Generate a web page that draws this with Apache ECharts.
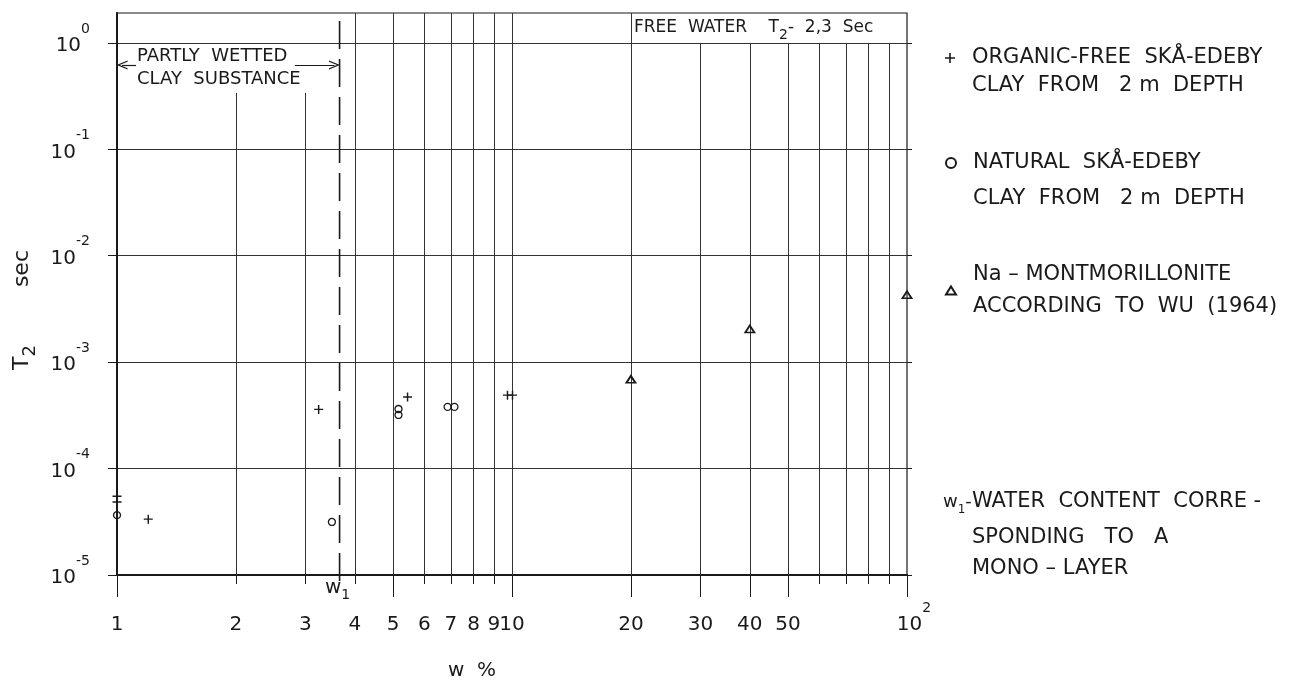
<!DOCTYPE html>
<html><head><meta charset="utf-8">
<script src="https://cdn.jsdelivr.net/npm/echarts@6/dist/echarts.min.js"></script>
<style>html,body{margin:0;padding:0;background:#fff}#c{width:1306px;height:683px}</style>
</head><body><div id="c"></div>
<script>
// ---- data ----
const organicFree = [[1,5.5e-5],[1,4.85e-5],[1.2,3.35e-5],[3.24,3.6e-4],[5.44,4.7e-4],[9.74,4.9e-4],[10.03,4.9e-4]];
const naturalClay = [[1,3.65e-5],[3.5,3.15e-5],[5.16,3.63e-4],[5.16,3.19e-4],[6.87,3.8e-4],[7.15,3.8e-4]];
const naMontmorillonite = [[20,6.9e-4],[40,2.05e-3],[100,4.3e-3]];
const xLabelValues = [1,2,3,4,5,6,7,8,9,10,20,30,40,50,100];
const xMajorTicks = [1,5,10,20,30,40,50,100];
const xMinorTicks = [2,3,4,6,7,8,9,60,70,80,90];
const yTickValues = [1e-5,1e-4,1e-3,1e-2,1e-1,1];
const xGridFull = [4,5,6,7,8,9,10,20];
const xGridBelowLabel = [2,3];
const xGridBelowFreeWater = [30,40,50,60,70,80,90];
const W1 = 3.66;
const X_MIN = 1, X_MAX = 100, Y_MIN = 1e-5, Y_MAX = 1.91;
const LABEL_BOX_BOTTOM = 0.339;   // T2 level where the "partly wetted" box ends
const ARROW_LEVEL = 0.621;
const legendText = {
  organic: ['ORGANIC-FREE  SKÅ-EDEBY', 'CLAY  FROM   2 m  DEPTH'],
  natural: ['NATURAL  SKÅ-EDEBY', 'CLAY  FROM   2 m  DEPTH'],
  namont:  ['Na – MONTMORILLONITE', 'ACCORDING  TO  WU  (1964)']
};

// ---- styling ----
const F = "'DejaVu Sans',sans-serif";
const INK = '#1a1a1a';
const GRID = '#333';
const PLUS = 'path://M4.2,0H5.8V4.2H10V5.8H5.8V10H4.2V5.8H0V4.2H4.2Z';
const CHEV = 'path://M0,10L5,0L10,10L8.6,10L5,2.8L1.4,10Z';

const chart = echarts.init(document.getElementById('c'));

const gridLines = [];
function vline(x, y1, y2) { gridLines.push([{coord:[x, y1]}, {coord:[x, y2]}]); }
xGridFull.forEach(x => vline(x, Y_MIN, Y_MAX));
xGridBelowLabel.forEach(x => vline(x, Y_MIN, LABEL_BOX_BOTTOM));
xGridBelowFreeWater.forEach(x => vline(x, Y_MIN, 1));

const supRich = {
  b: {fontSize: 20, lineHeight: 34, verticalAlign: 'bottom', fontFamily: F, color: INK},
  b2: {fontSize: 20, lineHeight: 34, verticalAlign: 'bottom', fontFamily: F, color: INK, padding: [0, 0, 0, 14]},
  e: {fontSize: 14, lineHeight: 22, verticalAlign: 'top', fontFamily: F, color: INK}
};

function legendCfg(name, top, L, blank) {
  const lines = legendText[name];
  return {
    data: [name], left: 945, top: top, padding: 0, orient: 'vertical',
    itemWidth: 10, itemHeight: name === 'namont' ? 8 : 10, selectedMode: false,
    formatter: () => (blank ? '{g| }\n' : '') + '{a|' + lines[0] + '}\n{a|' + lines[1] + '}',
    textStyle: {
      rich: {
        a: {fontSize: 21, lineHeight: L, padding: [0,0,0,12], fontFamily: F, color: INK},
        g: {fontSize: 10, lineHeight: L}
      }
    }
  };
}

const option = {
  animation: false,
  backgroundColor: '#fff',
  textStyle: {fontFamily: F, color: INK},
  grid: {left: 117, right: 399, top: 13, bottom: 108, show: true, borderColor: INK, borderWidth: 1.2, outerBoundsMode: 'none', containLabel: false},
  xAxis: [
    {
      type: 'log', logBase: 10, min: X_MIN, max: X_MAX, position: 'bottom',
      name: 'w  %', nameLocation: 'middle', nameGap: 86,
      nameTextStyle: {fontSize: 20, fontFamily: F, color: INK, padding: [0, 80, 0, 0]},
      axisLine: {show: true, lineStyle: {color: INK, width: 2}},
      axisTick: {show: true, customValues: xMajorTicks, length: 22, lineStyle: {color: INK, width: 1}},
      axisLabel: {
        show: true, customValues: xLabelValues, margin: 26, hideOverlap: false,
        formatter: v => (Math.abs(v - 100) < 1e-6 ? '{b2|10}{e|2}' : '{b|' + Math.round(v) + '}'),
        rich: supRich
      },
      splitLine: {show: false}
    },
    {
      type: 'log', logBase: 10, min: X_MIN, max: X_MAX, position: 'bottom',
      axisLine: {show: false},
      axisTick: {show: true, customValues: xMinorTicks, length: 9, lineStyle: {color: INK, width: 1}},
      axisLabel: {show: false},
      splitLine: {show: false}
    }
  ],
  yAxis: [
    {
      type: 'log', logBase: 10, min: Y_MIN, max: Y_MAX, position: 'left',
      name: '{t|T}{s|2}{u|sec}', nameLocation: 'middle', nameGap: 72, nameRotate: 90,
      nameTextStyle: {
        rich: {
          t: {fontSize: 22, lineHeight: 34, verticalAlign: 'middle', fontFamily: F, color: INK},
          s: {fontSize: 18, lineHeight: 18, verticalAlign: 'bottom', fontFamily: F, color: INK},
          u: {fontSize: 22, lineHeight: 34, verticalAlign: 'middle', fontFamily: F, color: INK, padding: [0, 32, 0, 58]}
        }
      },
      axisLine: {show: true, lineStyle: {color: INK, width: 2}},
      axisTick: {show: true, customValues: yTickValues, length: 9, lineStyle: {color: INK, width: 1}},
      axisLabel: {
        show: true, customValues: yTickValues, margin: 27, hideOverlap: false, padding: [0, 0, 8, 0],
        formatter: v => '{b|10}{e|' + Math.round(Math.log10(v)) + '}',
        rich: supRich
      },
      splitLine: {show: true, lineStyle: {color: GRID, width: 1}}
    },
    {
      type: 'log', logBase: 10, min: Y_MIN, max: Y_MAX, position: 'right',
      axisLine: {show: false},
      axisTick: {show: true, customValues: yTickValues, length: 5, lineStyle: {color: INK, width: 1}},
      axisLabel: {show: false},
      splitLine: {show: false}
    }
  ],
  legend: [
    legendCfg('organic', 25, 28, true),
    legendCfg('natural', 122, 36, true),
    legendCfg('namont', 264, 32, false)
  ],
  series: [
    {
      name: 'frame', type: 'line', data: [], clip: false, silent: true,
      markLine: {silent: true, symbol: 'none', label: {show: false}, animation: false,
        lineStyle: {color: GRID, width: 1, type: 'solid'}, data: gridLines}
    },
    {
      name: 'w1line', type: 'line', clip: false, silent: true, symbol: 'none', z: 4,
      data: [[W1, Y_MAX * 0.84], [W1, Y_MIN * 0.8]],
      lineStyle: {color: INK, width: 1.6, type: [28, 10]}
    },
    {
      name: 'arrows', type: 'line', data: [], clip: false, silent: true,
      markLine: {silent: true, symbol: 'none', symbolSize: [9, 11], label: {show: false}, animation: false,
        lineStyle: {color: INK, width: 1.2, type: 'solid'},
        data: [
          [{coord: [X_MIN * 1.03, ARROW_LEVEL], symbol: CHEV}, {coord: [1.117, ARROW_LEVEL], symbol: 'none'}],
          [{coord: [2.82, ARROW_LEVEL], symbol: 'none'}, {coord: [W1 / 1.03, ARROW_LEVEL], symbol: CHEV}]
        ]}
    },
    {
      name: 'organic', type: 'scatter', data: organicFree, clip: false,
      symbol: PLUS, symbolSize: 9, itemStyle: {color: INK, opacity: 1}, emphasis: {disabled: true}, z: 5
    },
    {
      name: 'natural', type: 'scatter', data: naturalClay, clip: false,
      symbol: 'circle', symbolSize: 7,
      itemStyle: {color: 'rgba(0,0,0,0)', borderColor: INK, borderWidth: 1.3, opacity: 1}, emphasis: {disabled: true}, z: 5
    },
    {
      name: 'namont', type: 'scatter', data: naMontmorillonite, clip: false,
      symbol: 'triangle', symbolSize: [9, 7],
      itemStyle: {color: 'rgba(0,0,0,0)', borderColor: INK, borderWidth: 1.8, opacity: 1}, emphasis: {disabled: true}, z: 5
    }
  ],
  graphic: [
    {type: 'text', x: 137, y: 56, style: {text: 'PARTLY  WETTED', fontSize: 18, fontFamily: F, fill: INK, verticalAlign: 'middle'}},
    {type: 'text', x: 137, y: 79, style: {text: 'CLAY  SUBSTANCE', fontSize: 18, fontFamily: F, fill: INK, verticalAlign: 'middle'}},
    {type: 'text', x: 634, y: 28, style: {
      text: '{a|FREE  WATER    T}{s|2}{a|-  2,3  Sec}', verticalAlign: 'middle',
      rich: {
        a: {fontSize: 17, lineHeight: 28, verticalAlign: 'middle', fontFamily: F, fill: INK},
        s: {fontSize: 14, lineHeight: 14, verticalAlign: 'bottom', fontFamily: F, fill: INK}
      }}},
    {type: 'text', x: 325, y: 588, style: {
      text: '{a|w}{s|1}', verticalAlign: 'middle',
      rich: {
        a: {fontSize: 20, lineHeight: 28, verticalAlign: 'middle', fontFamily: F, fill: INK},
        s: {fontSize: 14, lineHeight: 14, verticalAlign: 'bottom', fontFamily: F, fill: INK}
      }}},
    {type: 'text', x: 943, y: 502, style: {
      text: '{a|w}{s|1}{a|-}', verticalAlign: 'middle',
      rich: {
        a: {fontSize: 18, lineHeight: 28, verticalAlign: 'middle', fontFamily: F, fill: INK},
        s: {fontSize: 12, lineHeight: 12, verticalAlign: 'bottom', fontFamily: F, fill: INK}
      }}},
    {type: 'text', x: 972, y: 502, style: {text: 'WATER  CONTENT  CORRE -', fontSize: 21, fontFamily: F, fill: INK, verticalAlign: 'middle'}},
    {type: 'text', x: 972, y: 538, style: {text: 'SPONDING   TO   A', fontSize: 21, fontFamily: F, fill: INK, verticalAlign: 'middle'}},
    {type: 'text', x: 972, y: 569, style: {text: 'MONO – LAYER', fontSize: 21, fontFamily: F, fill: INK, verticalAlign: 'middle'}}
  ]
};
chart.setOption(option);
</script>
</body></html>
